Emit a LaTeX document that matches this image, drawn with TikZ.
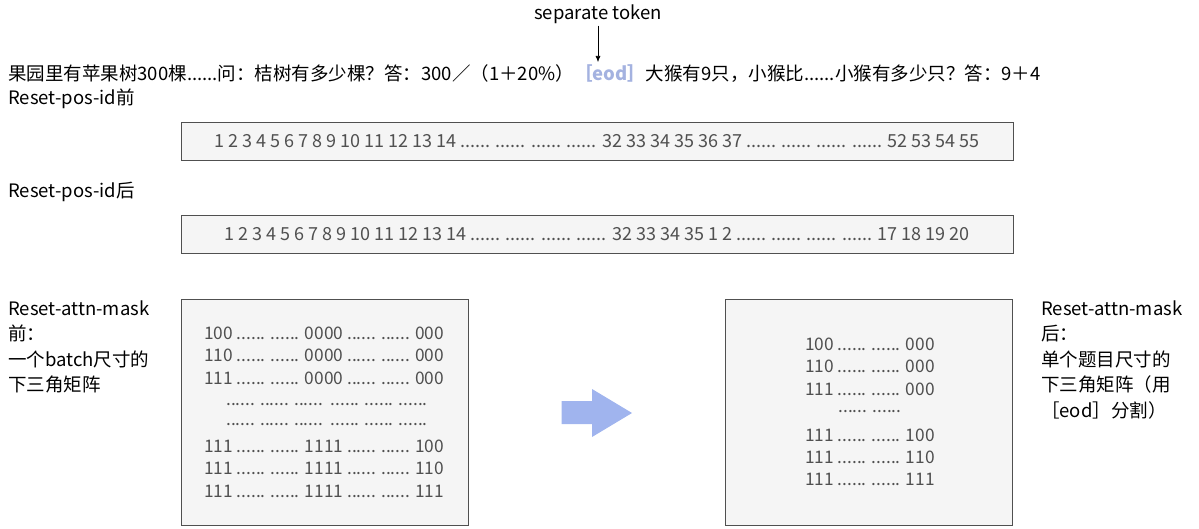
\documentclass[tikz,border=0pt]{standalone}
\usepackage{fontspec}
\usetikzlibrary{arrows.meta}
\setmainfont{Noto Sans CJK SC}
\definecolor{boxfill}{HTML}{F5F5F5}
\definecolor{boxline}{HTML}{505050}
\definecolor{boxtext}{HTML}{505050}
\definecolor{eodcol}{HTML}{A4B2E0}
\definecolor{arrowcol}{HTML}{A0B4EE}
\newcommand\sixdots{......}
\begin{document}
\begin{tikzpicture}[x=1pt,y=-1pt,
  lbl/.style={anchor=west,inner sep=0pt,font=\fontsize{18.5}{23}\selectfont},
  seqbox/.style={draw=boxline,fill=boxfill,line width=0.8pt,minimum width=832pt,minimum height=38pt,inner sep=0pt},
  matbox/.style={draw=boxline,fill=boxfill,line width=0.8pt,minimum width=287pt,minimum height=226pt,inner sep=0pt},
  seqtxt/.style={inner sep=0pt,text=boxtext,font=\fontsize{18}{22}\selectfont},
  mattxt/.style={inner sep=0pt,text=boxtext,font=\fontsize{17.3}{22}\selectfont},
]
\useasboundingbox (0,0) rectangle (1199,529);
% top label and arrow
\node[inner sep=0pt,font=\fontsize{18.5}{20}\selectfont] (sep) at (598,14) {separate token};
\coordinate (septip) at (598,62);
\draw[-{Latex[length=6pt,width=5pt]},line width=0.6pt] ([yshift=-2pt]sep.south) -- (septip);
% main sentence
\node[lbl] (sent) at (8,74) {果园里有苹果树300棵......问：桔树有多少棵？答：300／（1＋20\%）\textcolor{eodcol}{\bfseries［eod］}大猴有9只，小猴比......小猴有多少只？答：9＋4};
\node[lbl] (l1) at (8,99) {Reset-pos-id前};
\node[seqbox] (b1) at (597,141) {};
\node[seqtxt] (t1) at (b1.center) {1 2 3 4 5 6 7 8 9 10 11 12 13 14 ...... ...... ...... ...... 32 33 34 35 36 37 ...... ...... ...... ...... 52 53 54 55};
\node[lbl] (l2) at (8,192) {Reset-pos-id后};
\node[seqbox] (b2) at (597,234) {};
\node[seqtxt] (t2) at (b2.center) {1 2 3 4 5 6 7 8 9 10 11 12 13 14 ...... ...... ...... ...... 32 33 34 35 1 2 ...... ...... ...... ...... 17 18 19 20};
% left labels
\foreach \t [count=\i] in {Reset-attn-mask,前：,一个batch尺寸的,下三角矩阵}
  \node[lbl] (la\i) at (8,{308+25.5*(\i-1)}) {\t};
% left matrix
\node[matbox] (b3) at (324.5,412) {};
\foreach \t/\y [count=\i] in {
  {100 \sixdots{} \sixdots{} 0000 \sixdots{} \sixdots{} 000}/333,
  {110 \sixdots{} \sixdots{} 0000 \sixdots{} \sixdots{} 000}/355.5,
  {111 \sixdots{} \sixdots{} 0000 \sixdots{} \sixdots{} 000}/378,
  {111 \sixdots{} \sixdots{} 1111 \sixdots{} \sixdots{} 100}/446,
  {111 \sixdots{} \sixdots{} 1111 \sixdots{} \sixdots{} 110}/468.5,
  {111 \sixdots{} \sixdots{} 1111 \sixdots{} \sixdots{} 111}/491}
  \node[mattxt,anchor=west] (ma\i) at (204,\y) {\t};
\foreach \y [count=\i] in {405,425}
  \node[mattxt,anchor=west] (md\i) at (226,\y) {\sixdots{} \sixdots{} \sixdots\ \ \sixdots{} \sixdots{} \sixdots};
% block arrow
\fill[arrowcol] (561.7,401) -- (592,401) -- (592,389) -- (632,413) -- (592,437) -- (592,424) -- (561.7,424) -- cycle;
% right matrix
\node[matbox] (b4) at (868.5,412) {};
\foreach \t/\y [count=\i] in {
  {100 \sixdots{} \sixdots{} 000}/344,
  {110 \sixdots{} \sixdots{} 000}/366.5,
  {111 \sixdots{} \sixdots{} 000}/389,
  {\sixdots{} \sixdots}/412,
  {111 \sixdots{} \sixdots{} 100}/435,
  {111 \sixdots{} \sixdots{} 110}/457,
  {111 \sixdots{} \sixdots{} 111}/479}
  \node[mattxt] (mb\i) at (870,\y) {\t};
% right labels
\foreach \t [count=\i] in {Reset-attn-mask,后：,单个题目尺寸的,下三角矩阵（用,［eod］分割）}
  \node[lbl] (lb\i) at (1041,{308+25.5*(\i-1)}) {\t};
\end{tikzpicture}
\end{document}
